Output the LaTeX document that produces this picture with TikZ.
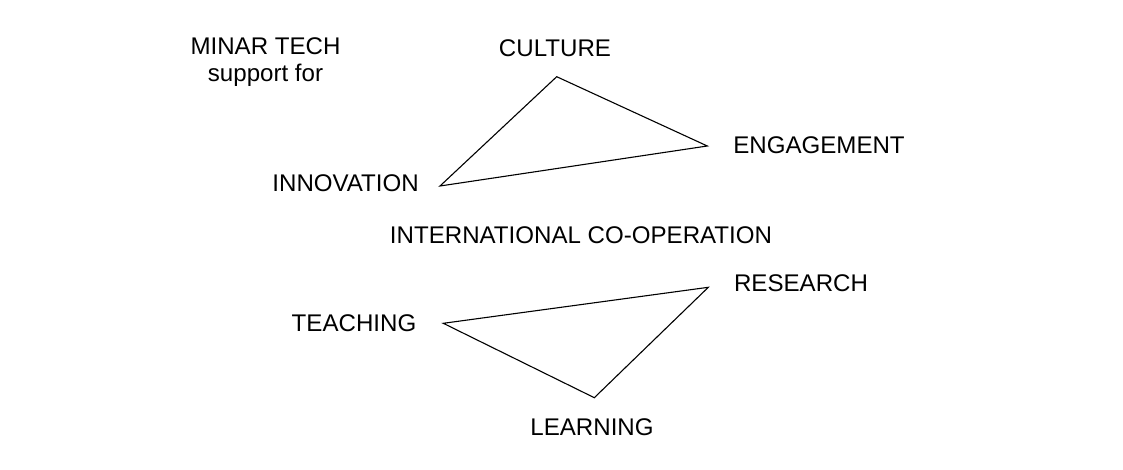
\documentclass[tikz,border=0pt]{standalone}
\usepackage{fontspec}
\setmainfont{Liberation Sans}
\usepackage{tikz}
\usepackage{xcolor}
\usetikzlibrary{calc, positioning}
\definecolor{trianglecolor}{RGB}{0,0,0}

\begin{document}
\begin{tikzpicture}[x=0.5pt, y=-0.5pt,
	every node/.style={font=\fontsize{12.05}{14}\selectfont, inner sep=0pt},
	triangle/.style={trianglecolor, line width=0.55pt, line join=miter}
	]
\useasboundingbox (0,0) rectangle (1123,470);

\node (minar) at (265.5,46.7) {MINAR TECH};
\node[anchor=base] (support) at (265.5,81.7) {support for};

\node (culture) at (555,48.3) {CULTURE};
\node (innovation) at (345.6,183.3) {INNOVATION};
\node (engagement) at (819,145.5) {ENGAGEMENT};

\node (coop) at (581,235) {INTERNATIONAL CO-OPERATION};

\node (research) at (801,283) {RESEARCH};
\node (teaching) at (354,323) {TEACHING};
\node (learning) at (592,427.5) {LEARNING};

% Corners
\coordinate (culture-c) at (556.7,76.7);
\coordinate (innovation-c) at (440,186);
\coordinate (engagement-c) at (707.3,146);

\coordinate (research-c) at (708.3,287.3);
\coordinate (teaching-c) at (443.3,323.3);
\coordinate (learning-c) at (594.3,397.7);

% Triangles
\draw[triangle] (culture-c) -- (engagement-c) -- (innovation-c) -- cycle;
\draw[triangle] (teaching-c) -- (research-c) -- (learning-c) -- cycle;

\end{tikzpicture}
\end{document}
